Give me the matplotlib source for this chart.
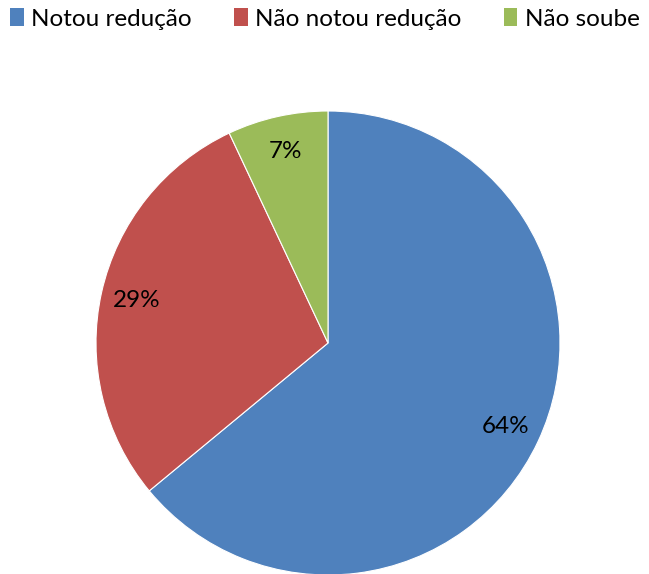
import matplotlib
matplotlib.use('Agg')
import matplotlib.pyplot as plt
from matplotlib.patches import Patch

plt.rcParams['font.family'] = ['Lato', 'DejaVu Sans']

labels = ['Notou redução', 'Não notou redução', 'Não soube']
values = [64, 29, 7]
colors = ['#4F81BD', '#C0504D', '#9BBB59']

W, H = 649, 574
fig = plt.figure(figsize=(W / 100, H / 100), dpi=100)

# pie centre (328, 343) px, radius 232 px
cx, cy, r = 328, 343, 232
ax = fig.add_axes([(cx - r) / W, (H - cy - r) / H, 2 * r / W, 2 * r / H])
wedges, texts, autotexts = ax.pie(values, colors=colors, startangle=90,
                                  counterclock=False, radius=1,
                                  autopct='%1.0f%%', pctdistance=0.845,
                                  wedgeprops=dict(edgecolor='white', linewidth=0.8),
                                  textprops=dict(fontsize=17.5, color='black'))
ax.set_xlim(-1, 1)
ax.set_ylim(-1, 1)
ax.set_aspect('equal')
ax.axis('off')

handles = [Patch(facecolor=c, edgecolor='none') for c in colors]
fig.legend(handles, labels, loc='center left',
           bbox_to_anchor=(10 / W, 1 - 19 / H),
           ncol=3, frameon=False, fontsize=17.5, handlelength=0.56,
           handleheight=0.75, handletextpad=0.3, columnspacing=1.75,
           borderpad=0, borderaxespad=0)

fig.savefig('out.png', dpi=100)
